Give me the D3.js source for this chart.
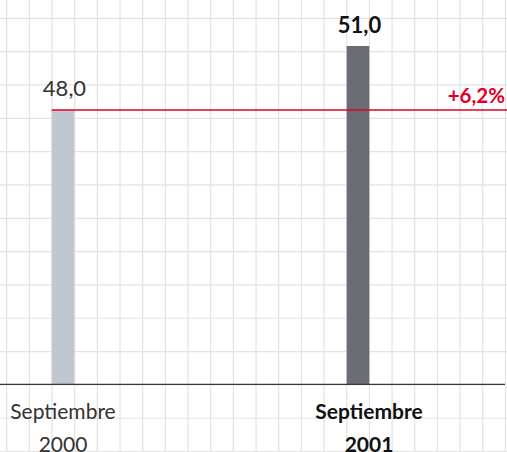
<!DOCTYPE html>
<html><head><meta charset="utf-8">
<script src="https://cdn.jsdelivr.net/npm/d3@7"></script>
<style>
html,body{margin:0;padding:0;background:#fff;}
svg{display:block;}
</style></head>
<body>
<svg id="chart" width="507" height="452"></svg>
<script>
const categories = ["Septiembre 2000", "Septiembre 2001"];
const labelLines = [["Septiembre", "2000"], ["Septiembre", "2001"]];
const values = [48.0, 51.0];
const valueLabels = ["48,0", "51,0"];
const highlighted = [false, true];
const changeLabel = "+6,2%";

const W = 507, H = 452;
const svg = d3.select("#chart");
const cell = 22.67, rowH = 33.33;
const gx0 = 6.7, gy0 = 18.3;

// background grid
const g = svg.append("g");
const vx = d3.range(-1, 23).map(k => gx0 + k * cell).filter(v => v >= 0 && v <= W);
const hy = d3.range(0, 14).map(k => gy0 + k * rowH).filter(v => v <= H);
g.selectAll("line.v").data(vx).join("line")
  .attr("x1", d => d).attr("x2", d => d).attr("y1", 0).attr("y2", H)
  .attr("stroke", "#e3e3e3").attr("stroke-width", 1.2);
g.selectAll("line.h").data(hy).join("line")
  .attr("y1", d => d).attr("y2", d => d).attr("x1", 0).attr("x2", W)
  .attr("stroke", "#e3e3e3").attr("stroke-width", 1.2);

const x = d3.scalePoint().domain(categories).range([63.0, 358.0]);
const barW = cell;
const baseY = 384.3;
const y = d3.scaleLinear().domain([35.14, 51]).range([baseY, 46]);

// bars
svg.selectAll("rect.bar").data(categories).join("rect")
  .attr("x", d => x(d) - barW / 2)
  .attr("width", barW)
  .attr("y", (d, i) => y(values[i]))
  .attr("height", (d, i) => baseY - y(values[i]))
  .attr("fill", (d, i) => highlighted[i] ? "#6a6d74" : "#c0c7ce");

// baseline
svg.append("line").attr("x1", 0).attr("x2", 505).attr("y1", baseY).attr("y2", baseY)
  .attr("stroke", "#3a3a3a").attr("stroke-width", 1.3);

// reference line
svg.append("line")
  .attr("x1", x(categories[0]) - barW / 2).attr("x2", W)
  .attr("y1", y(values[0])).attr("y2", y(values[0]))
  .attr("stroke", "#e2002b").attr("stroke-width", 1.3);

svg.append("text").text(changeLabel)
  .attr("x", 505).attr("y", y(values[0]) - 6.8)
  .attr("text-anchor", "end")
  .attr("font-family", "Lato, sans-serif").attr("font-weight", 700)
  .attr("font-size", 20.5).attr("fill", "#e2002b");

// value labels
svg.selectAll("text.val").data(categories).join("text")
  .text((d, i) => valueLabels[i])
  .attr("x", d => x(d) + 1.5)
  .attr("y", (d, i) => y(values[i]) - 13.5)
  .attr("text-anchor", "middle")
  .attr("font-family", "Lato, sans-serif")
  .attr("font-weight", (d, i) => highlighted[i] ? 700 : 400)
  .attr("font-size", 22)
  .attr("fill", (d, i) => highlighted[i] ? "#111" : "#333");

// category labels
svg.selectAll("text.cat").data(categories).join("text")
  .attr("x", (d, i) => x(d) + (highlighted[i] ? 11 : 0))
  .attr("y", baseY + 34.7)
  .attr("text-anchor", "middle")
  .attr("font-family", "Lato, sans-serif")
  .attr("font-weight", (d, i) => highlighted[i] ? 700 : 400)
  .attr("font-size", 21)
  .attr("fill", (d, i) => highlighted[i] ? "#111" : "#333")
  .each(function(d, i) {
    const t = d3.select(this);
    labelLines[i].forEach((ln, j) => {
      t.append("tspan").attr("x", t.attr("x")).attr("dy", j === 0 ? 0 : 33.4).text(ln);
    });
  });
</script>
</body></html>
